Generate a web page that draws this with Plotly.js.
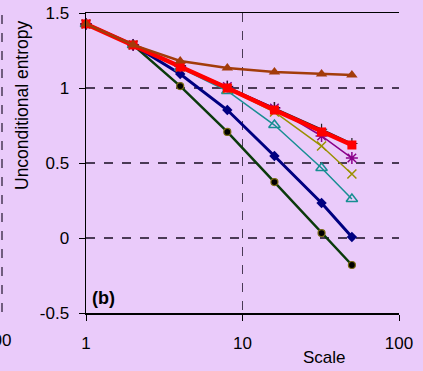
<!DOCTYPE html>
<html><head><meta charset="utf-8">
<script src="https://cdn.plot.ly/plotly-3.0.1.min.js"></script>
<style>html,body{margin:0;padding:0;background:#EACBFA;}</style>
</head><body><div id="chart" style="width:423px;height:371px;"></div>
<script>
var scales = [1, 2, 4, 8, 16, 32, 50];
var seriesBrown  = [1.427, 1.287, 1.180, 1.133, 1.107, 1.093, 1.087];
var seriesBlack  = [1.427, 1.287, 1.150, 1.010, 0.870, 0.725, 0.630];
var seriesRed    = [1.427, 1.287, 1.140, 1.000, 0.853, 0.707, 0.620];
var seriesPurple = [1.427, 1.287, 1.145, 1.010, 0.867, 0.680, 0.533];
var seriesOlive  = [1.427, 1.287, 1.140, 0.995, 0.840, 0.613, 0.427];
var seriesTeal   = [1.427, 1.287, 1.135, 0.980, 0.753, 0.467, 0.260];
var seriesNavy   = [1.427, 1.287, 1.093, 0.853, 0.547, 0.233, 0.007];
var seriesGreen  = [1.427, 1.287, 1.013, 0.707, 0.373, 0.033, -0.180];
var xTicks = [1, 10, 100];
var xTickText = ['1', '10', '100'];
var yTicks = [-0.5, 0, 0.5, 1, 1.5];
var yTickText = ['-0.5', '0', '0.5', '1', '1.5'];

function tr(y, color, width, symbol, msize, mcolor, mline, mlinecolor) {
  return {x: scales, y: y, type: 'scatter', mode: 'lines+markers',
    line: {color: color, width: width},
    marker: {symbol: symbol, size: msize, color: mcolor || color,
      line: {width: mline || 0, color: mlinecolor || mcolor || color}},
    showlegend: false, cliponaxis: false};
}
var data = [
  tr(seriesGreen, '#0B3A0B', 2.5, 'circle', 7, '#000000', 1.2, '#7A6A10'),
  tr(seriesNavy, '#000080', 3, 'diamond', 8, '#000080'),
  tr(seriesTeal, '#178E92', 1.5, 'triangle-up-open', 10, '#178E92', 1.5),
  tr(seriesOlive, '#9A9000', 1.5, 'x-thin-open', 9, '#9A9000', 1.5),
  tr(seriesPurple, '#8A008A', 1.5, 'asterisk-open', 10, '#8A008A', 1.5),
  tr(seriesBlack, '#202020', 1.5, 'cross-thin-open', 8, '#202020', 1.2),
  tr(seriesRed, '#FF0000', 4.5, 'square', 9, '#FF0000'),
  tr(seriesBrown, '#A33C0A', 2.5, 'triangle-up', 10, '#A33C0A')
];
var fam = 'Liberation Sans, Arial, sans-serif';
var fnt = {family: fam, size: 17, color: '#000'};
var layout = {
  width: 423, height: 371,
  margin: {l: 86, r: 24, t: 13, b: 58},
  paper_bgcolor: '#EACBFA', plot_bgcolor: '#EACBFA',
  font: fnt,
  xaxis: {type: 'log', range: [0, 2], tickvals: xTicks, ticktext: xTickText,
    showline: true, linecolor: '#000', linewidth: 1.5, mirror: true,
    ticks: 'outside', ticklen: 6, tickcolor: '#000', ticklabelstandoff: 8,
    showgrid: true, gridcolor: '#4a3a55', griddash: 'dash', gridwidth: 1.2,
    zeroline: false, tickfont: fnt},
  yaxis: {range: [-0.5, 1.5], tickvals: yTicks, ticktext: yTickText,
    showline: true, linecolor: '#000', linewidth: 1.5,
    ticks: 'outside', ticklen: 6, tickcolor: '#000', ticklabelstandoff: 6,
    showgrid: true, gridcolor: '#4a3a55', griddash: 'dash', gridwidth: 1.2,
    zeroline: false, tickfont: fnt},
  annotations: [
    {text: '<b>(b)</b>', xref: 'paper', yref: 'paper', x: (90 - 86) / 313, y: (313 - 298) / 300,
     xanchor: 'left', yanchor: 'middle', showarrow: false,
     font: {family: fam, size: 18, color: '#000'}},
    {text: 'Unconditional entropy', xref: 'paper', yref: 'paper',
     x: (22 - 86) / 313, y: (313 - 105) / 300, textangle: -90,
     xanchor: 'center', yanchor: 'middle', showarrow: false, font: {family: fam, size: 17.5, color: '#000'}},
    {text: 'Scale', xref: 'paper', yref: 'paper',
     x: (324 - 86) / 313, y: (313 - 357) / 300,
     xanchor: 'center', yanchor: 'middle', showarrow: false, font: fnt},
    {text: '100', xref: 'paper', yref: 'paper', x: (13 - 86) / 313, y: (313 - 340) / 300,
     xanchor: 'right', yanchor: 'middle', showarrow: false, font: fnt}
  ],
  shapes: [
    {type: 'line', xref: 'paper', yref: 'paper', x0: (2 - 86) / 313, x1: (2 - 86) / 313,
     y0: (313 - 312) / 300, y1: (313 - 14) / 300,
     line: {color: '#4a3a55', width: 1.5, dash: 'dash'}}
  ]
};
Plotly.newPlot('chart', data, layout, {displayModeBar: false, staticPlot: true});
</script></body></html>
